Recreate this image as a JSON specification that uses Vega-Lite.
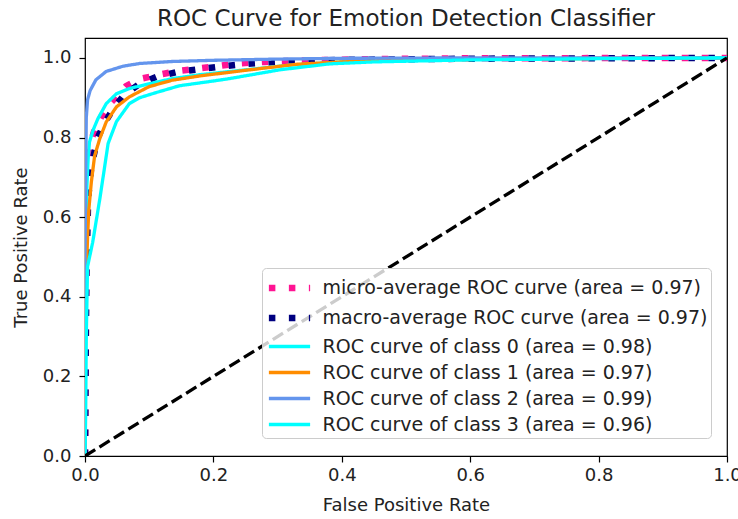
{
  "$schema": "https://vega.github.io/schema/vega-lite/v6.json",
  "width": 642,
  "height": 418,
  "autosize": {"type": "none"},
  "padding": {"left": 85, "top": 38, "right": 11, "bottom": 63},
  "background": "white",
  "config": {
    "view": {"stroke": "#000000", "strokeWidth": 1.2},
    "font": "DejaVu Sans",
    "axis": {
      "grid": false, "domain": false, "tickColor": "#000000", "tickSize": 6, "tickWidth": 1.2,
      "labelFont": "DejaVu Sans", "labelFontSize": 18, "labelColor": "#222222",
      "titleFont": "DejaVu Sans", "titleFontSize": 18, "titleFontWeight": "normal", "titleColor": "#222222"
    }
  },
  "title": {
    "text": "ROC Curve for Emotion Detection Classifier",
    "font": "DejaVu Sans", "fontSize": 23, "fontWeight": "normal", "color": "#222222",
    "anchor": "middle", "baseline": "bottom", "offset": 6, "dy": 22
  },
  "datasets": {
    "curves": [
      {"s": "micro-average ROC curve (area = 0.97)", "x": 0, "y": 0},
      {"s": "micro-average ROC curve (area = 0.97)", "x": 0.001, "y": 0.3},
      {"s": "micro-average ROC curve (area = 0.97)", "x": 0.003, "y": 0.6},
      {"s": "micro-average ROC curve (area = 0.97)", "x": 0.005, "y": 0.72},
      {"s": "micro-average ROC curve (area = 0.97)", "x": 0.007, "y": 0.776},
      {"s": "micro-average ROC curve (area = 0.97)", "x": 0.015, "y": 0.82},
      {"s": "micro-average ROC curve (area = 0.97)", "x": 0.025, "y": 0.851},
      {"s": "micro-average ROC curve (area = 0.97)", "x": 0.041, "y": 0.889},
      {"s": "micro-average ROC curve (area = 0.97)", "x": 0.064, "y": 0.929},
      {"s": "micro-average ROC curve (area = 0.97)", "x": 0.085, "y": 0.947},
      {"s": "micro-average ROC curve (area = 0.97)", "x": 0.116, "y": 0.958},
      {"s": "micro-average ROC curve (area = 0.97)", "x": 0.144, "y": 0.967},
      {"s": "micro-average ROC curve (area = 0.97)", "x": 0.175, "y": 0.973},
      {"s": "micro-average ROC curve (area = 0.97)", "x": 0.21, "y": 0.98},
      {"s": "micro-average ROC curve (area = 0.97)", "x": 0.238, "y": 0.986},
      {"s": "micro-average ROC curve (area = 0.97)", "x": 0.28, "y": 0.99},
      {"s": "micro-average ROC curve (area = 0.97)", "x": 0.35, "y": 0.994},
      {"s": "micro-average ROC curve (area = 0.97)", "x": 0.45, "y": 0.997},
      {"s": "micro-average ROC curve (area = 0.97)", "x": 0.6, "y": 0.999},
      {"s": "micro-average ROC curve (area = 0.97)", "x": 1, "y": 1},
      {"s": "macro-average ROC curve (area = 0.97)", "x": 0, "y": 0},
      {"s": "macro-average ROC curve (area = 0.97)", "x": 0.002, "y": 0.45},
      {"s": "macro-average ROC curve (area = 0.97)", "x": 0.005, "y": 0.65},
      {"s": "macro-average ROC curve (area = 0.97)", "x": 0.01, "y": 0.73},
      {"s": "macro-average ROC curve (area = 0.97)", "x": 0.02, "y": 0.8},
      {"s": "macro-average ROC curve (area = 0.97)", "x": 0.03, "y": 0.835},
      {"s": "macro-average ROC curve (area = 0.97)", "x": 0.045, "y": 0.875},
      {"s": "macro-average ROC curve (area = 0.97)", "x": 0.06, "y": 0.905},
      {"s": "macro-average ROC curve (area = 0.97)", "x": 0.085, "y": 0.935},
      {"s": "macro-average ROC curve (area = 0.97)", "x": 0.111, "y": 0.952},
      {"s": "macro-average ROC curve (area = 0.97)", "x": 0.142, "y": 0.964},
      {"s": "macro-average ROC curve (area = 0.97)", "x": 0.175, "y": 0.971},
      {"s": "macro-average ROC curve (area = 0.97)", "x": 0.21, "y": 0.978},
      {"s": "macro-average ROC curve (area = 0.97)", "x": 0.25, "y": 0.985},
      {"s": "macro-average ROC curve (area = 0.97)", "x": 0.3, "y": 0.99},
      {"s": "macro-average ROC curve (area = 0.97)", "x": 0.4, "y": 0.995},
      {"s": "macro-average ROC curve (area = 0.97)", "x": 0.6, "y": 0.998},
      {"s": "macro-average ROC curve (area = 0.97)", "x": 1, "y": 1},
      {"s": "ROC curve of class 0 (area = 0.98)", "x": 0, "y": 0},
      {"s": "ROC curve of class 0 (area = 0.98)", "x": 0, "y": 0.3},
      {"s": "ROC curve of class 0 (area = 0.98)", "x": 0.001, "y": 0.55},
      {"s": "ROC curve of class 0 (area = 0.98)", "x": 0.003, "y": 0.68},
      {"s": "ROC curve of class 0 (area = 0.98)", "x": 0.005, "y": 0.75},
      {"s": "ROC curve of class 0 (area = 0.98)", "x": 0.007, "y": 0.789},
      {"s": "ROC curve of class 0 (area = 0.98)", "x": 0.013, "y": 0.82},
      {"s": "ROC curve of class 0 (area = 0.98)", "x": 0.02, "y": 0.847},
      {"s": "ROC curve of class 0 (area = 0.98)", "x": 0.033, "y": 0.885},
      {"s": "ROC curve of class 0 (area = 0.98)", "x": 0.049, "y": 0.91},
      {"s": "ROC curve of class 0 (area = 0.98)", "x": 0.069, "y": 0.923},
      {"s": "ROC curve of class 0 (area = 0.98)", "x": 0.1, "y": 0.935},
      {"s": "ROC curve of class 0 (area = 0.98)", "x": 0.136, "y": 0.948},
      {"s": "ROC curve of class 0 (area = 0.98)", "x": 0.18, "y": 0.958},
      {"s": "ROC curve of class 0 (area = 0.98)", "x": 0.25, "y": 0.97},
      {"s": "ROC curve of class 0 (area = 0.98)", "x": 0.32, "y": 0.982},
      {"s": "ROC curve of class 0 (area = 0.98)", "x": 0.4, "y": 0.99},
      {"s": "ROC curve of class 0 (area = 0.98)", "x": 0.5, "y": 0.995},
      {"s": "ROC curve of class 0 (area = 0.98)", "x": 0.7, "y": 0.998},
      {"s": "ROC curve of class 0 (area = 0.98)", "x": 1, "y": 1},
      {"s": "ROC curve of class 1 (area = 0.97)", "x": 0, "y": 0},
      {"s": "ROC curve of class 1 (area = 0.97)", "x": 0, "y": 0.2},
      {"s": "ROC curve of class 1 (area = 0.97)", "x": 0.002, "y": 0.45},
      {"s": "ROC curve of class 1 (area = 0.97)", "x": 0.004, "y": 0.55},
      {"s": "ROC curve of class 1 (area = 0.97)", "x": 0.006, "y": 0.62},
      {"s": "ROC curve of class 1 (area = 0.97)", "x": 0.01, "y": 0.69},
      {"s": "ROC curve of class 1 (area = 0.97)", "x": 0.015, "y": 0.754},
      {"s": "ROC curve of class 1 (area = 0.97)", "x": 0.023, "y": 0.797},
      {"s": "ROC curve of class 1 (area = 0.97)", "x": 0.033, "y": 0.839},
      {"s": "ROC curve of class 1 (area = 0.97)", "x": 0.049, "y": 0.877},
      {"s": "ROC curve of class 1 (area = 0.97)", "x": 0.069, "y": 0.902},
      {"s": "ROC curve of class 1 (area = 0.97)", "x": 0.1, "y": 0.928},
      {"s": "ROC curve of class 1 (area = 0.97)", "x": 0.136, "y": 0.944},
      {"s": "ROC curve of class 1 (area = 0.97)", "x": 0.18, "y": 0.955},
      {"s": "ROC curve of class 1 (area = 0.97)", "x": 0.251, "y": 0.969},
      {"s": "ROC curve of class 1 (area = 0.97)", "x": 0.329, "y": 0.984},
      {"s": "ROC curve of class 1 (area = 0.97)", "x": 0.4, "y": 0.99},
      {"s": "ROC curve of class 1 (area = 0.97)", "x": 0.5, "y": 0.994},
      {"s": "ROC curve of class 1 (area = 0.97)", "x": 0.7, "y": 0.998},
      {"s": "ROC curve of class 1 (area = 0.97)", "x": 1, "y": 1},
      {"s": "ROC curve of class 2 (area = 0.99)", "x": 0, "y": 0},
      {"s": "ROC curve of class 2 (area = 0.99)", "x": 0, "y": 0.5},
      {"s": "ROC curve of class 2 (area = 0.99)", "x": 0.001, "y": 0.7},
      {"s": "ROC curve of class 2 (area = 0.99)", "x": 0.002, "y": 0.85},
      {"s": "ROC curve of class 2 (area = 0.99)", "x": 0.004, "y": 0.895},
      {"s": "ROC curve of class 2 (area = 0.99)", "x": 0.008, "y": 0.918},
      {"s": "ROC curve of class 2 (area = 0.99)", "x": 0.017, "y": 0.945},
      {"s": "ROC curve of class 2 (area = 0.99)", "x": 0.033, "y": 0.966},
      {"s": "ROC curve of class 2 (area = 0.99)", "x": 0.059, "y": 0.979},
      {"s": "ROC curve of class 2 (area = 0.99)", "x": 0.085, "y": 0.986},
      {"s": "ROC curve of class 2 (area = 0.99)", "x": 0.136, "y": 0.991},
      {"s": "ROC curve of class 2 (area = 0.99)", "x": 0.2, "y": 0.994},
      {"s": "ROC curve of class 2 (area = 0.99)", "x": 0.3, "y": 0.997},
      {"s": "ROC curve of class 2 (area = 0.99)", "x": 0.4, "y": 0.999},
      {"s": "ROC curve of class 2 (area = 0.99)", "x": 0.6, "y": 1},
      {"s": "ROC curve of class 2 (area = 0.99)", "x": 1, "y": 1},
      {"s": "ROC curve of class 3 (area = 0.96)", "x": 0, "y": 0},
      {"s": "ROC curve of class 3 (area = 0.96)", "x": 0.001, "y": 0.1},
      {"s": "ROC curve of class 3 (area = 0.96)", "x": 0.002, "y": 0.3},
      {"s": "ROC curve of class 3 (area = 0.96)", "x": 0.004, "y": 0.476},
      {"s": "ROC curve of class 3 (area = 0.96)", "x": 0.012, "y": 0.537},
      {"s": "ROC curve of class 3 (area = 0.96)", "x": 0.023, "y": 0.645},
      {"s": "ROC curve of class 3 (area = 0.96)", "x": 0.03, "y": 0.72},
      {"s": "ROC curve of class 3 (area = 0.96)", "x": 0.036, "y": 0.785},
      {"s": "ROC curve of class 3 (area = 0.96)", "x": 0.049, "y": 0.84},
      {"s": "ROC curve of class 3 (area = 0.96)", "x": 0.069, "y": 0.885},
      {"s": "ROC curve of class 3 (area = 0.96)", "x": 0.085, "y": 0.9},
      {"s": "ROC curve of class 3 (area = 0.96)", "x": 0.111, "y": 0.913},
      {"s": "ROC curve of class 3 (area = 0.96)", "x": 0.147, "y": 0.93},
      {"s": "ROC curve of class 3 (area = 0.96)", "x": 0.2, "y": 0.942},
      {"s": "ROC curve of class 3 (area = 0.96)", "x": 0.225, "y": 0.948},
      {"s": "ROC curve of class 3 (area = 0.96)", "x": 0.303, "y": 0.97},
      {"s": "ROC curve of class 3 (area = 0.96)", "x": 0.381, "y": 0.985},
      {"s": "ROC curve of class 3 (area = 0.96)", "x": 0.45, "y": 0.99},
      {"s": "ROC curve of class 3 (area = 0.96)", "x": 0.6, "y": 0.995},
      {"s": "ROC curve of class 3 (area = 0.96)", "x": 0.8, "y": 0.998},
      {"s": "ROC curve of class 3 (area = 0.96)", "x": 1, "y": 1}
    ],
    "diagonal": [
      {"x": 0, "y": 0},
      {"x": 1, "y": 1}
    ]
  },
  "layer": [
    {
      "data": {"name": "curves"},
      "mark": {"type": "line", "clip": true},
      "encoding": {
        "x": {"field": "x", "type": "quantitative", "scale": {"domain": [0, 1], "nice": false, "zero": false},
              "axis": {"title": "False Positive Rate", "values": [0, 0.2, 0.4, 0.6, 0.8, 1.0], "format": ".1f", "labelPadding": 4, "titlePadding": 12, "labelFlush": false}},
        "y": {"field": "y", "type": "quantitative", "scale": {"domain": [0, 1.05], "nice": false, "zero": false},
              "axis": {"title": "True Positive Rate", "values": [0, 0.2, 0.4, 0.6, 0.8, 1.0], "format": ".1f", "labelPadding": 8, "titlePadding": 12, "labelFlush": false}},
        "order": {"value": null},
        "color": {
          "field": "s", "type": "nominal",
          "scale": {
            "domain": ["micro-average ROC curve (area = 0.97)", "macro-average ROC curve (area = 0.97)", "ROC curve of class 0 (area = 0.98)", "ROC curve of class 1 (area = 0.97)", "ROC curve of class 2 (area = 0.99)", "ROC curve of class 3 (area = 0.96)"],
            "range": ["#FF1493", "#000080", "#00FFFF", "#FF8C00", "#6495ED", "#00FFFF"]
          },
          "legend": {
            "title": null, "orient": "none", "legendX": 177, "legendY": 230,
            "symbolType": "M-1.5,0H1.5", "symbolSize": 756, "symbolStrokeWidth": 3.3,
            "symbolOffset": 7.5, "labelOffset": 16,
            "labelFont": "DejaVu Sans", "labelFontSize": 19, "labelColor": "#222222", "labelLimit": 0,
            "padding": 3, "rowPadding": -1.5,
            "fillColor": "rgba(255,255,255,0.8)", "strokeColor": "#cccccc", "cornerRadius": 4,
            "encode": {
              "symbols": {
                "update": {
                  "strokeWidth": {"signal": "datum.value == 'micro-average ROC curve (area = 0.97)' || datum.value == 'macro-average ROC curve (area = 0.97)' ? 6.5 : 3.3"}
                }
              }
            }
          }
        },
        "strokeDash": {
          "field": "s", "type": "nominal",
          "scale": {
            "domain": ["micro-average ROC curve (area = 0.97)", "macro-average ROC curve (area = 0.97)", "ROC curve of class 0 (area = 0.98)", "ROC curve of class 1 (area = 0.97)", "ROC curve of class 2 (area = 0.99)", "ROC curve of class 3 (area = 0.96)"],
            "range": [[6.5, 13.5], [6.5, 13.5], [1, 0], [1, 0], [1, 0], [1, 0]]
          }
        },
        "strokeWidth": {
          "field": "s", "type": "nominal",
          "legend": null,
          "scale": {
            "type": "ordinal",
            "domain": ["micro-average ROC curve (area = 0.97)", "macro-average ROC curve (area = 0.97)", "ROC curve of class 0 (area = 0.98)", "ROC curve of class 1 (area = 0.97)", "ROC curve of class 2 (area = 0.99)", "ROC curve of class 3 (area = 0.96)"],
            "range": [6.5, 6.5, 3.3, 3.3, 3.3, 3.3]
          }
        }
      }
    },
    {
      "data": {"name": "diagonal"},
      "mark": {"type": "line", "color": "#000000", "strokeWidth": 3.3, "strokeDash": [12, 5], "clip": true},
      "encoding": {
        "x": {"field": "x", "type": "quantitative"},
        "y": {"field": "y", "type": "quantitative"}
      }
    }
  ]
}
